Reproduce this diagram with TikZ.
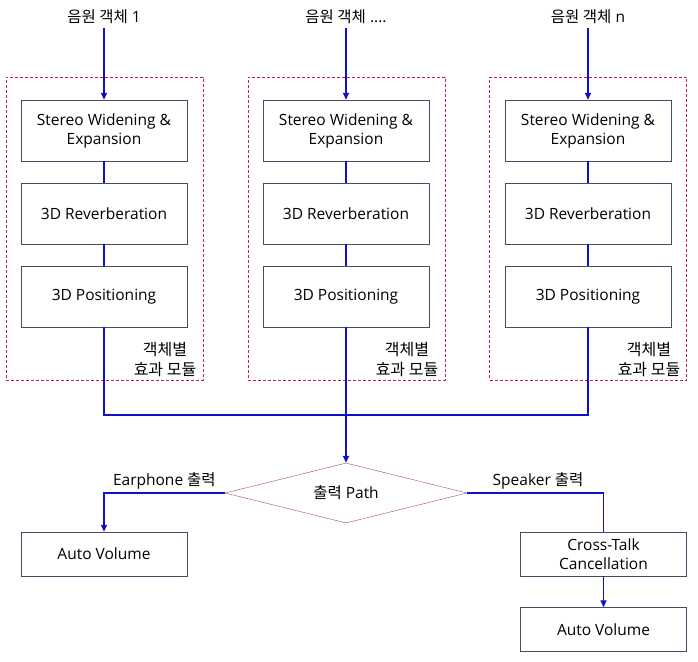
\documentclass[tikz,border=0pt]{standalone}
\usepackage{fontspec}
\setmainfont{Open Sans}
\newfontfamily\kr[Scale=1.0]{Noto Sans CJK KR}
\usetikzlibrary{arrows.meta, positioning, shapes.geometric}

\definecolor{flowblue}{RGB}{16,16,200}
\definecolor{boxgray}{RGB}{64,80,100}
\definecolor{groupred}{RGB}{200,30,60}
\definecolor{diamondred}{RGB}{160,80,80}

\begin{document}
\begin{tikzpicture}[
        x=1pt, y=-1pt,
        font=\fontsize{15.5}{19}\selectfont,
        box/.style={draw=boxgray, rectangle, minimum width=166pt, minimum height=61pt, text centered, align=center, inner sep=2pt},
        outbox/.style={box, minimum height=44pt},
        group/.style={draw=groupred, densely dashed, minimum width=197pt, minimum height=303pt},
        decision/.style={draw=diamondred, diamond, aspect=4, minimum width=242pt, minimum height=60pt, inner sep=0pt},
        flow/.style={draw=flowblue, line width=1.6pt},
        arrow/.style={flow, -{Triangle[length=7pt, width=6pt]}},
        grouplabel/.style={align=center, font=\kr\fontsize{16}{20}\selectfont}
    ]
    \useasboundingbox (0,0) rectangle (698,661);

    % Groups
    \node[group] (grp-1) at (104.5,228.5) {};
    \node[group] (grp-2) at (346.5,228.5) {};
    \node[group] (grp-3) at (588,228.5) {};

    % Sources
    \node (src-1) at (104,17) {{\kr 음원 객체} 1};
    \node (src-2) at (346,17) {{\kr 음원 객체} ....};
    \node (src-3) at (588,17) {{\kr 음원 객체} n};

    % Column 1
    \node[box] (wide-1) at (104,130.5) {Stereo Widening \&\\Expansion};
    \node[box] (reverb-1) at (104,213.5) {3D Reverberation};
    \node[box] (pos-1) at (104,296.5) {3D Positioning};
    \node[grouplabel] (lbl-1) at (165,360) {객체별\\효과 모듈};

    % Column 2
    \node[box] (wide-2) at (346,130.5) {Stereo Widening \&\\Expansion};
    \node[box] (reverb-2) at (346,213.5) {3D Reverberation};
    \node[box] (pos-2) at (346,296.5) {3D Positioning};
    \node[grouplabel] (lbl-2) at (407,360) {객체별\\효과 모듈};

    % Column 3
    \node[box] (wide-3) at (588,130.5) {Stereo Widening \&\\Expansion};
    \node[box] (reverb-3) at (588,213.5) {3D Reverberation};
    \node[box] (pos-3) at (588,296.5) {3D Positioning};
    \node[grouplabel] (lbl-3) at (649,360) {객체별\\효과 모듈};

    % Output stage
    \coordinate (merge) at (346,415);
    \node[decision] (path) at (346,493) {{\kr 출력} Path};
    \node[outbox] (ear-vol) at (104,554) {Auto Volume};
    \node[outbox] (xtalk) at (603.5,554) {Cross-Talk\\Cancellation};
    \node[outbox] (spk-vol) at (603.5,629.5) {Auto Volume};

    % Arrows
    \draw[arrow] (src-1) -- (wide-1);
    \draw[arrow] (src-2) -- (wide-2);
    \draw[arrow] (src-3) -- (wide-3);
    \draw[flow] (wide-1) -- (reverb-1) -- (pos-1);
    \draw[flow] (wide-2) -- (reverb-2) -- (pos-2);
    \draw[flow] (wide-3) -- (reverb-3) -- (pos-3);
    \draw[flow] (pos-1) |- (merge);
    \draw[flow] (pos-3) |- (merge);
    \draw[flow] (pos-2) -- (merge);
    \draw[arrow] (merge) -- (path.north);
    \draw[arrow] (path.west) -| node[pos=0.25, above] {Earphone {\kr 출력}} (ear-vol.north);
    \draw[flow] (path.east) -| node[pos=0.26, above] {Speaker {\kr 출력}} (xtalk.north);
    \draw[arrow] (xtalk) -- (spk-vol);

\end{tikzpicture}
\end{document}
